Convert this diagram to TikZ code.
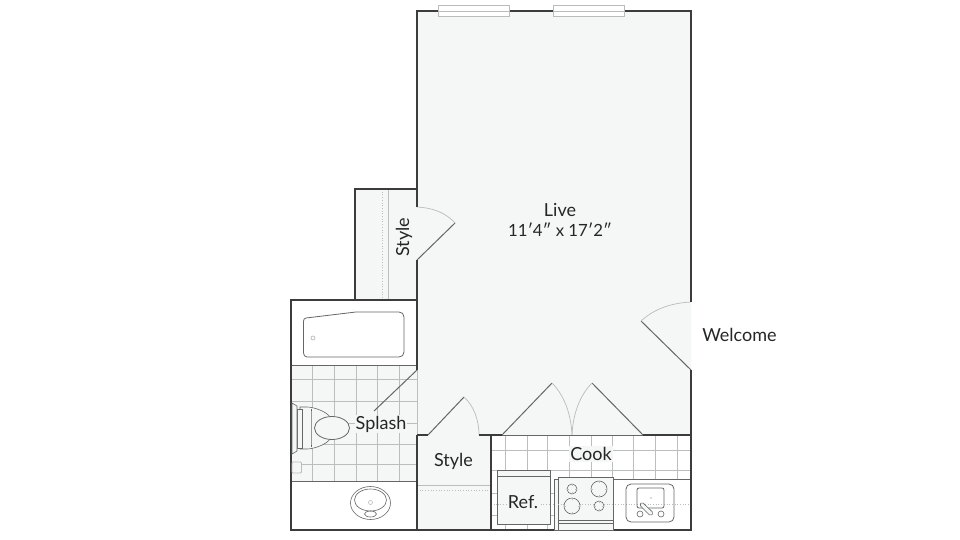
\documentclass[tikz,border=0pt]{standalone}
\usepackage{fontspec}
\setmainfont{Lato}
\definecolor{floorc}{HTML}{F5F7F6}
\definecolor{wallc}{HTML}{3C3C3C}
\definecolor{fixc}{HTML}{666666}
\definecolor{tilec}{HTML}{BABFBC}
\definecolor{arcc}{HTML}{BBBBBB}
\tikzset{
  wall/.style={draw=wallc,line width=1.7pt,line cap=butt},
  leaf/.style={draw=fixc,line width=1pt},
  swing/.style={draw=arcc,line width=.7pt},
  fix/.style={draw=fixc,line width=.8pt},
  tile/.style={draw=tilec,line width=.5pt},
  dots/.style={draw=tilec,line width=.7pt,dotted},
  lbl/.style={font=\fontsize{18}{21}\selectfont,text=black!85,inner sep=0pt},
  halo/.style={fill=floorc,inner sep=1pt},
}
\begin{document}
\begin{tikzpicture}[x=1pt,y=-1pt]
\useasboundingbox (0,0) rectangle (960,540);
\fill[white] (0,0) rectangle (960,540);
% floors
\fill[floorc] (417,11) -- (691,11) -- (691,435) -- (491,435) -- (491,530) -- (417,530) -- (417,300) -- (355,300) -- (355,189) -- (417,189) -- cycle;
% bath tiles
\fill[floorc] (291,365) rectangle (417,481);
\foreach \x in {312,334,356,377,399} \draw[tile] (\x,365) -- (\x,481);
\foreach \y in {379,401,423,444,464} \draw[tile] (291,\y) -- (417,\y);
\draw[fix] (291,365) -- (417,365);
\draw[fix] (291,481) -- (417,481);
% kitchen tiles
\foreach \x in {505,527,547,569,591,612,633,655,677} \draw[tile] (\x,435) -- (\x,479);
\foreach \y in {450,470} \draw[tile] (491,\y) -- (691,\y);
\foreach \x in {505,527,547} \draw[tile] (\x,479) -- (\x,530);
\foreach \y in {493,515} \draw[tile] (491,\y) -- (555,\y);
\draw[fix] (554,479) -- (691,479);
\draw[dots] (491,504) -- (691,504);
% closet lines
\draw[dots] (382,189) -- (382,300);
\draw[tile] (388,189) -- (388,300);
\draw[tile] (417,485) -- (491,485);
\draw[dots] (417,490) -- (491,490);
% named door points
\coordinate (a1) at (417,207); \coordinate (a2) at (417,260); \coordinate (a3) at (455,223);
\coordinate (b1) at (691,302); \coordinate (b2) at (691,370); \coordinate (b3) at (641,321);
\coordinate (c1) at (417,370); \coordinate (c3) at (374,411);
\coordinate (d1) at (428,435); \coordinate (d2) at (479,435); \coordinate (d3) at (464,397);
\coordinate (e1) at (502,435); \coordinate (e2) at (572,435); \coordinate (e3) at (552,383);
\coordinate (f1) at (643,435); \coordinate (f3) at (592,383);
% door recess floor at the closet door
\fill[floorc] (a1) .. controls (435,208) and (447,214) .. (a3) -- (a2) -- cycle;
% thin threshold lines
\draw[fix] (e1) -- (f1);
\draw[draw=tilec,line width=.5pt] (c1) -- (417,435);
% door leaves and swings
\draw[leaf] (a2) -- (a3);
\draw[swing] (a1) .. controls (435,208) and (447,214) .. (a3);
\draw[leaf] (b2) -- (b3);
\draw[swing] (b1) .. controls (671,303) and (654,309) .. (b3);
\draw[leaf] (c1) -- (c3);
\draw[leaf] (d1) -- (d3);
\draw[swing] (d3) .. controls (473,405) and (479,419) .. (d2);
\draw[leaf] (e1) -- (e3);
\draw[swing] (e3) .. controls (563,394) and (571,412) .. (e2);
\draw[leaf] (f1) -- (f3);
\draw[swing] (f3) .. controls (581,394) and (573,412) .. (e2);
% walls
\draw[wall] (a1) -- (417,11) -- (691,11) -- (b1);
\draw[wall] (b2) -- (691,530) -- (291,530) -- (291,300) -- (417,300);
\draw[wall] (355,300) -- (355,189) -- (417,189);
\draw[wall] (a2) -- (c1);
\draw[wall] (417,435) -- (417,530);
\draw[wall] (417,435) -- (d1);
\draw[wall] (d2) -- (e1);
\draw[wall] (f1) -- (691,435);
\draw[wall] (491,435) -- (491,530);
% windows over wall
\foreach \a/\b in {438/509.5,553/624}{
  \fill[white] (\a,5) rectangle (\b,16);
  \draw[draw=arcc,line width=.8pt] (\a,5) rectangle (\b,16) (\a,11) -- (\b,11);
}
% tub
\draw[fix] (306,318) -- (356,312) -- (399,312) .. controls (402,312) and (404,314) .. (404,317) -- (404,352) .. controls (404,355) and (402,357) .. (399,357) -- (307,357) .. controls (305,357) and (303.5,355) .. (303.5,353) -- (303.5,321) .. controls (303.5,319.5) and (304.5,318.2) .. (306,318);
\draw[draw=arcc,line width=.7pt] (313,338) circle[radius=2];
% toilet
\draw[fix,line width=.6pt,fill=floorc] (300,407) -- (307,407) .. controls (313,407) and (326,411) .. (330,417) -- (330,439) .. controls (326,445) and (313,449) .. (307,449) -- (300,449) -- cycle;
\draw[fix,line width=.6pt] (311,409) .. controls (311,418) and (311,438) .. (311,447);
\draw[fix,line width=.6pt,fill=floorc] (297,409) rectangle (302,448);
\draw[fix,line width=.6pt,fill=floorc] (292,403) -- (297,406) -- (297,451) -- (292,454) -- cycle;
\draw[fix,fill=floorc] (332,428) ellipse[x radius=17.5,y radius=11.5];
\draw[draw=arcc,line width=.8pt,fill=floorc,rounded corners=1pt] (292,462) rectangle (301.5,473);
% bath sink
\draw[fix,line width=.6pt] (370.5,503) ellipse[x radius=20,y radius=16.5];
\draw[fix,line width=.6pt] (370.5,500) ellipse[x radius=16,y radius=11];
\draw[draw=arcc,line width=.6pt] (370.5,502.5) circle[radius=2];
\draw[fix,line width=.6pt] (370.5,514) ellipse[x radius=6,y radius=3];
% fridge
\draw[fix,fill=floorc] (497.5,470) rectangle (550,524);
\draw[fix] (497.5,476) -- (550,476);
\draw[dots] (497.5,504) -- (550,504);
% stove
\draw[fix,fill=floorc] (554,479) rectangle (558,530);
\draw[fix,fill=floorc] (558,477) rectangle (613,530);
\draw[fix] (558,520) -- (613,520);
\draw[fix] (558,523) -- (613,523);
\draw[dots] (558,504) -- (613,504);
\foreach \x/\y/\r in {572/489/5,599/489/8,572/506/8,599/506/5}{
  \draw[fix,line width=.6pt,fill=floorc] (\x,\y) circle[radius=\r];
  \draw[draw=arcc,line width=.5pt] (\x-\r,\y) -- (\x-\r+2,\y) (\x+\r-2,\y) -- (\x+\r,\y) (\x,\y-\r) -- (\x,\y-\r+2) (\x,\y+\r-2) -- (\x,\y+\r);
}
% kitchen sink
\draw[fix,rounded corners=5pt] (626,484) rectangle (674,522);
\draw[fix,rounded corners=2pt] (637,488) rectangle (664,508);
\fill[arcc] (651,498) circle[radius=.9];
\draw[fix,line width=.6pt] (640,514) circle[radius=3];
\draw[fix,line width=.6pt] (661,514) circle[radius=3];
\draw[fix,line width=.6pt,fill=floorc,rounded corners=1.5pt] (642,502) -- (653.5,513) -- (650.5,516) -- (639.5,505) -- cycle;
% labels
\node[lbl] (live) at (560,210) {Live};
\node[lbl,font=\fontsize{16.8}{20}\selectfont] (size) at (560,230) {11′4″ x 17′2″};
\node[lbl] (welcome) at (739.5,335) {Welcome};
\node[lbl,rotate=90] (style1) at (404,237) {Style};
\node[lbl,halo] (splash) at (381,424) {Splash};
\node[lbl] (style2) at (453.5,461) {Style};
\node[lbl,halo] (cook) at (591,454) {Cook};
\node[lbl,halo] (ref) at (523,502) {Ref.};
\end{tikzpicture}
\end{document}
